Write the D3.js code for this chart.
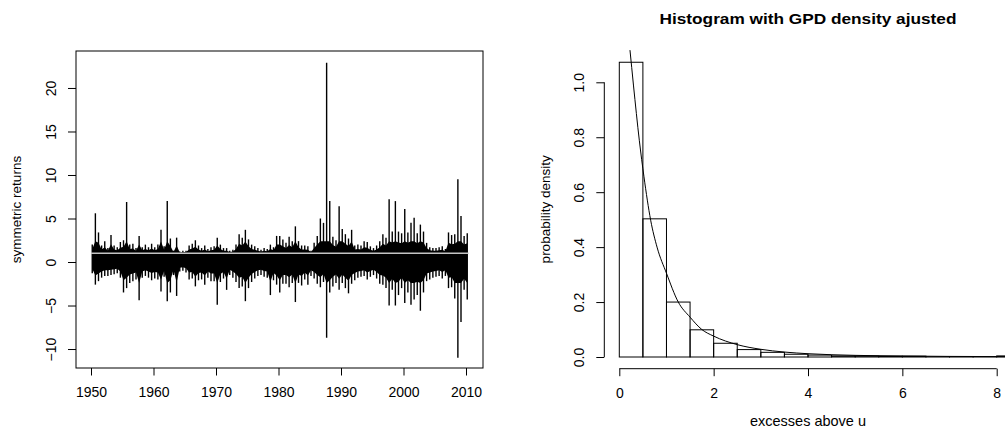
<!DOCTYPE html>
<html>
<head>
<meta charset="utf-8">
<script src="https://cdn.jsdelivr.net/npm/d3@7"></script>
<style>
body { margin: 0; background: #fff; }
text { font-family: "Liberation Sans", Arial, sans-serif; fill: #000; }
</style>
</head>
<body>
<div id="chart"></div>
<script>
const width = 1005
const height = 430

// left panel: max / min of the symmetric returns in each half year, 1950.0 .. 2010.0
const firstYear = 1950
const returnsHigh = [
    2.0, 5.6, 3.4, 1.9, 2.4, 1.6, 3.1, 1.9, 1.7, 2.3,
    2.5, 6.9, 2.0, 2.1, 1.6, 3.0, 1.7, 2.0, 1.7, 2.1,
    1.7, 2.0, 3.7, 1.8, 7.0, 2.7, 1.3, 2.8, 1.2, 1.3,
    1.3, 1.9, 2.1, 2.5, 1.9, 1.6, 1.9, 1.5, 1.7, 1.8,
    2.8, 2.0, 1.6, 1.6, 1.3, 1.4, 2.0, 3.2, 2.8, 3.7,
    2.6, 2.0, 1.8, 1.6, 1.4, 1.6, 1.5, 2.0, 1.7, 3.0,
    3.0, 2.6, 2.2, 2.9, 2.4, 4.1, 2.4, 1.9, 1.9, 1.8,
    1.3, 2.2, 3.0, 5.0, 4.5, 22.9, 7.0, 2.9, 2.5, 6.4,
    3.8, 3.2, 2.7, 3.7, 1.9, 2.0, 1.9, 2.4, 2.3, 1.8,
    1.6, 1.9, 2.4, 3.2, 2.8, 7.2, 3.5, 7.0, 3.5, 3.3,
    6.1, 3.4, 4.5, 5.1, 3.3, 4.3, 3.5, 2.2, 1.7, 1.6,
    1.6, 1.7, 1.8, 1.5, 3.4, 3.1, 3.2, 9.5, 5.3, 3.0,
    3.3
]
const returnsLow = [
    -1.3, -2.6, -2.2, -1.8, -1.6, -1.6, -1.5, -1.4, -1.3, -1.8,
    -3.5, -3.0, -2.4, -2.2, -2.0, -4.4, -1.8, -1.6, -1.8, -2.1,
    -1.9, -2.0, -3.4, -1.7, -4.5, -3.5, -1.5, -3.9, -1.1, -1.0,
    -1.2, -2.0, -1.9, -2.8, -2.1, -2.0, -2.6, -1.8, -2.2, -2.2,
    -4.9, -2.3, -1.9, -3.2, -1.5, -1.8, -2.3, -3.0, -2.8, -4.5,
    -3.0, -2.3, -1.9, -1.6, -1.5, -1.7, -1.8, -3.8, -2.1, -2.6,
    -3.5, -2.5, -2.5, -2.9, -2.4, -4.6, -2.4, -2.7, -2.0, -2.6,
    -1.6, -1.9, -2.5, -2.9, -2.3, -8.7, -3.5, -2.8, -2.4, -3.2,
    -2.4, -3.0, -3.6, -2.5, -2.1, -1.8, -1.7, -1.6, -2.0, -1.7,
    -1.5, -1.9, -2.5, -2.6, -3.0, -5.0, -3.2, -5.0, -3.8, -3.0,
    -4.7, -3.5, -4.9, -4.3, -3.8, -5.6, -3.5, -2.2, -2.0, -1.8,
    -1.7, -1.6, -1.9, -1.6, -3.0, -2.9, -4.2, -11.0, -6.9, -3.2,
    -4.3
]
const threshold = 1
const lastYear = 2010.4
const yearTicks = [1950, 1960, 1970, 1980, 1990, 2000, 2010]
const returnTicks = [-10, -5, 0, 5, 10, 15, 20]

// right panel: histogram of the excesses and the fitted GPD density
const binEdges = [0, 0.5, 1, 1.5, 2, 2.5, 3, 3.5, 4, 4.5, 5, 5.5, 6, 6.5, 7, 7.5, 8, 8.5]
const binDensity = [1.073, 0.503, 0.2, 0.099, 0.05, 0.027, 0.017, 0.01, 0.007, 0.004,
    0.004, 0.003, 0.003, 0.001, 0.001, 0.001, 0.004]
const gpdX = [0.2, 0.227, 0.3, 0.424, 0.523, 0.665, 0.8, 1.0, 1.25, 1.5, 1.75, 2.0, 2.5,
    3.0, 3.5, 4.0, 5.0, 6.0, 7.0, 8.0, 8.5]
const gpdY = [1.16, 1.116, 0.99, 0.789, 0.656, 0.498, 0.40, 0.305, 0.20, 0.145, 0.10, 0.076, 0.045,
    0.028, 0.018, 0.012, 0.006, 0.0035, 0.0022, 0.0015, 0.0012]
const excessTicks = [0, 2, 4, 6, 8]
const densityTicks = [0, 0.2, 0.4, 0.6, 0.8, 1.0]

const svg = d3.select("div#chart").append("svg").attr("width", width).attr("height", height)

// ---------- left panel ----------
const left = { x0: 76, x1: 483, y0: 51, y1: 368 }
const x = d3.scaleLinear().domain([1947.6, 2012.72]).range([left.x0, left.x1])
const y = d3.scaleLinear().domain([-12.18, 24.25]).range([left.y1, left.y0])

const leftGroup = svg.append("g").attr("class", "leftPanel")

// the daily line is so dense it reads as a solid core with thin spikes sticking out
const halfYears = returnsHigh.map((d, i) => firstYear + i * 0.5 + 0.2)
const core = d3.area()
    .x((d, i) => x(halfYears[i]))
    .y0((d, i) => y(Math.max(0.6 * returnsLow[i], -2.4)))
    .y1(d => y(Math.min(1 + 0.5 * (d - 1), 2.4)))
leftGroup.append("path")
    .attr("d", core(returnsHigh))
    .attr("fill", "#000")

leftGroup.append("g").selectAll("line").data(returnsHigh)
    .enter()
    .append("line")
    .attr("x1", (d, i) => x(halfYears[i]))
    .attr("x2", (d, i) => x(halfYears[i]))
    .attr("y1", d => y(d))
    .attr("y2", (d, i) => y(returnsLow[i]))
    .attr("stroke", "#000")
    .attr("stroke-width", 1.4)

leftGroup.append("line")
    .attr("x1", x(firstYear)).attr("x2", x(lastYear))
    .attr("y1", y(threshold)).attr("y2", y(threshold))
    .attr("stroke", "#c4c4c4")
    .attr("stroke-width", 1.6)

leftGroup.append("rect")
    .attr("x", left.x0).attr("y", left.y0)
    .attr("width", left.x1 - left.x0).attr("height", left.y1 - left.y0)
    .attr("fill", "none").attr("stroke", "#000")

const xAxisGroup = leftGroup.append("g")
    .attr("transform", `translate(0, ${left.y1})`)
    .call(d3.axisBottom(x).tickValues(yearTicks).tickSize(7.5).tickPadding(12).tickFormat(d3.format("d")))
const yAxisGroup = leftGroup.append("g")
    .attr("transform", `translate(${left.x0}, 0)`)
    .call(d3.axisLeft(y).tickValues(returnTicks).tickSize(8).tickFormat(""))
yAxisGroup.selectAll(".tick").append("text")
    .attr("transform", "translate(-20.5, 0) rotate(-90)")
    .attr("text-anchor", "middle")
    .text(d => d3.format("d")(d))

leftGroup.append("text")
    .attr("transform", `translate(20.5, ${(left.y0 + left.y1) / 2}) rotate(-90)`)
    .attr("text-anchor", "middle")
    .style("font-size", "13.5px")
    .text("symmetric returns")

// ---------- right panel ----------
const right = { x0: 604.3, x1: 1012, y0: 50, y1: 368.7 }
const xh = d3.scaleLinear().domain([0, 8]).range([619.3, 996.7])
const yh = d3.scaleLinear().domain([0, 1]).range([357, 82.3])

const rightGroup = svg.append("g").attr("class", "rightPanel")
svg.append("clipPath").attr("id", "plotClip")
    .append("rect")
    .attr("x", right.x0).attr("y", right.y0)
    .attr("width", right.x1 - right.x0).attr("height", right.y1 - right.y0)

const bars = rightGroup.append("g").attr("clip-path", "url(#plotClip)")
bars.selectAll("rect").data(binDensity)
    .enter()
    .append("rect")
    .attr("x", (d, i) => xh(binEdges[i]))
    .attr("y", d => yh(d))
    .attr("width", (d, i) => xh(binEdges[i + 1]) - xh(binEdges[i]))
    .attr("height", d => yh(0) - yh(d))
    .attr("fill", "none")
    .attr("stroke", "#000")

rightGroup.append("path")
    .attr("clip-path", "url(#plotClip)")
    .attr("d", d3.line().x(d => xh(d)).y((d, i) => yh(gpdY[i])).curve(d3.curveMonotoneX)(gpdX))
    .attr("fill", "none")
    .attr("stroke", "#000")

const xhAxis = rightGroup.append("g")
    .attr("transform", `translate(0, ${right.y1})`)
    .call(d3.axisBottom(xh).tickValues(excessTicks).tickSize(7.5).tickPadding(12).tickFormat(d3.format("d")))
xhAxis.select(".domain").remove()
xhAxis.append("line")
    .attr("x1", xh(0)).attr("x2", xh(8))
    .attr("stroke", "#000")

const yhAxis = rightGroup.append("g")
    .attr("transform", `translate(${right.x0}, 0)`)
    .call(d3.axisLeft(yh).tickValues(densityTicks).tickSize(8).tickFormat(""))
yhAxis.select(".domain").remove()
yhAxis.append("line")
    .attr("y1", yh(0)).attr("y2", yh(1))
    .attr("stroke", "#000")
yhAxis.selectAll(".tick").append("text")
    .attr("transform", "translate(-20.5, 0) rotate(-90)")
    .attr("text-anchor", "middle")
    .text(d => d3.format(".1f")(d))

rightGroup.append("text")
    .attr("x", 808).attr("y", 24.3)
    .attr("text-anchor", "middle")
    .attr("textLength", 297)
    .attr("lengthAdjust", "spacingAndGlyphs")
    .style("font-size", "15px")
    .style("font-weight", "bold")
    .text("Histogram with GPD density ajusted")

rightGroup.append("text")
    .attr("x", 808).attr("y", 426)
    .attr("text-anchor", "middle")
    .style("font-size", "14.5px")
    .text("excesses above u")

rightGroup.append("text")
    .attr("transform", `translate(550, ${(right.y0 + right.y1) / 2}) rotate(-90)`)
    .attr("text-anchor", "middle")
    .style("font-size", "13.5px")
    .text("probability density")

// shared tick styling
svg.selectAll(".tick text").style("font-size", "14px").attr("fill", "#000")
svg.selectAll(".tick line").attr("stroke", "#000")
svg.selectAll(".domain").attr("stroke", "none")
</script>
</body>
</html>
